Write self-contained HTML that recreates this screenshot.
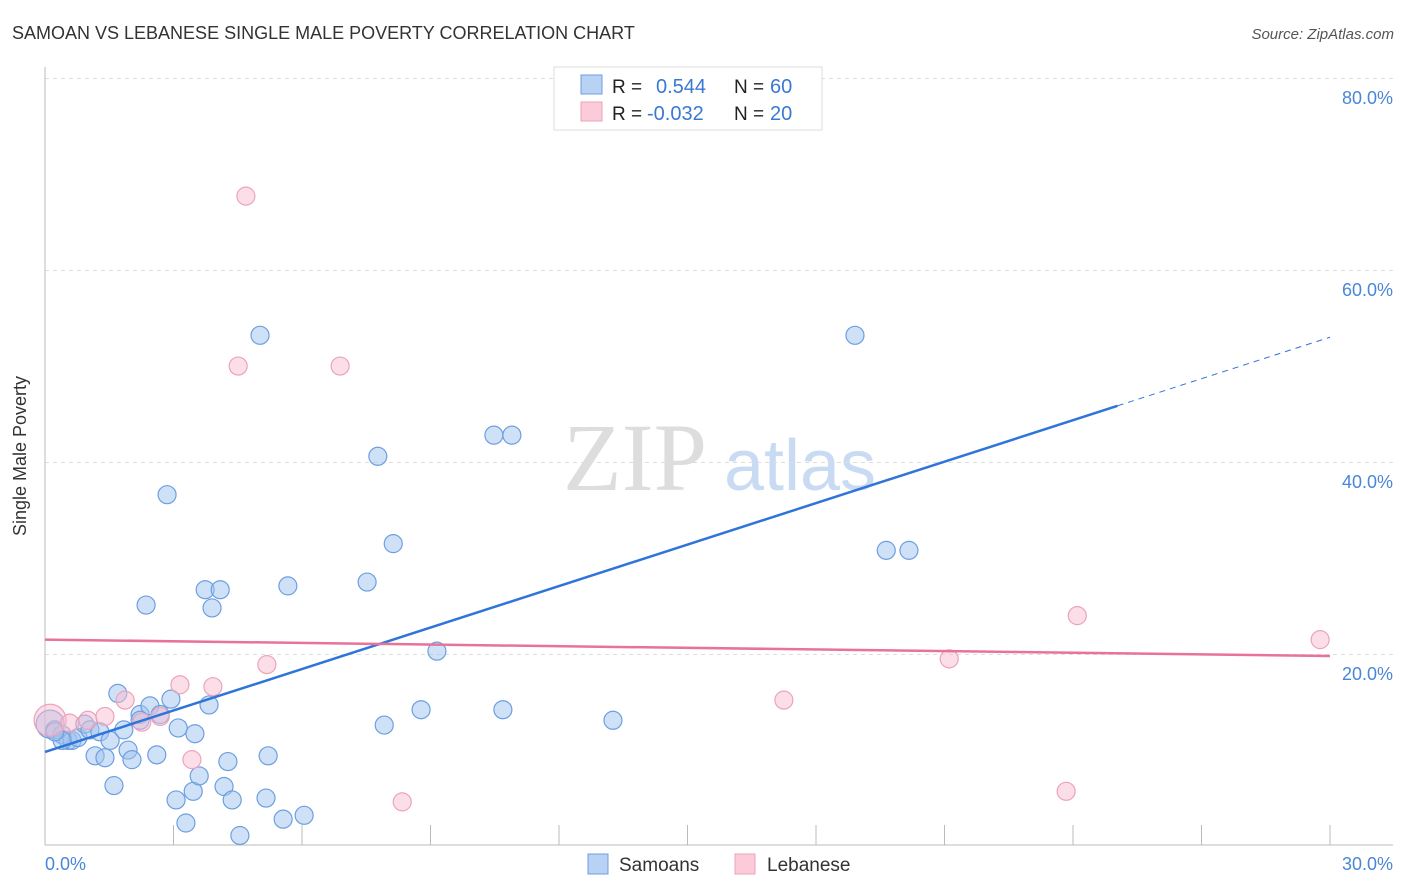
<!DOCTYPE html>
<html><head><meta charset="utf-8"><style>
body{margin:0;background:#fff;font-family:"Liberation Sans",sans-serif}
</style></head><body>
<svg id="chart" width="1406" height="892" xmlns="http://www.w3.org/2000/svg" style="display:block;font-family:'Liberation Sans',sans-serif">
<text x="12" y="39" font-size="18" fill="#333">SAMOAN VS LEBANESE SINGLE MALE POVERTY CORRELATION CHART</text>
<text x="1394" y="39" font-size="15" fill="#555" font-style="italic" text-anchor="end">Source: ZipAtlas.com</text>
<g>
<text x="635" y="490" font-size="96" fill="#ddd" font-family="Liberation Serif,serif" text-anchor="middle">ZIP</text>
<text x="800" y="490" font-size="72" fill="#c9dbf2" text-anchor="middle">atlas</text>
</g>
<g id="grid"></g>
<g id="axes"></g>
<g id="marks"></g>
<text x="26" y="456" font-size="18" fill="#333" text-anchor="middle" transform="rotate(-90 26 456)">Single Male Poverty</text>
<text x="45" y="870" font-size="18" fill="#4a86d8">0.0%</text>
<text x="1393" y="870" font-size="18" fill="#4a86d8" text-anchor="end">30.0%</text>
<g>
<rect x="554" y="67" width="268" height="63" fill="#fff" stroke="#ddd"/>
<rect x="581" y="75" width="21" height="19" fill="#b8d2f4" stroke="#6d9fe0"/>
<rect x="581" y="102" width="21" height="19" fill="#fbcbd9" stroke="#eda3ba"/>
<text x="612" y="93" font-size="19" fill="#222">R =</text>
<text x="656" y="93" font-size="20" fill="#3a78d4">0.544</text>
<text x="734" y="93" font-size="19" fill="#222">N =</text>
<text x="770" y="93" font-size="20" fill="#3a78d4">60</text>
<text x="612" y="120" font-size="19" fill="#222">R =</text>
<text x="647" y="120" font-size="20" fill="#3a78d4">-0.032</text>
<text x="734" y="120" font-size="19" fill="#222">N =</text>
<text x="770" y="120" font-size="20" fill="#3a78d4">20</text>
</g>
<g>
<rect x="588" y="854" width="20" height="20" fill="#b8d2f4" stroke="#6d9fe0"/>
<text x="619" y="871" font-size="19" fill="#333">Samoans</text>
<rect x="735" y="854" width="20" height="20" fill="#fbcbd9" stroke="#eda3ba"/>
<text x="767" y="871" font-size="19" fill="#333">Lebanese</text>
</g>
</svg>
<script>
const yTicks=[20,40,60,80];
const yTickLabels=["20.0%","40.0%","60.0%","80.0%"];
const xTicks=[3,6,9,12,15,18,21,24,27,30];
const samoanX=[0.12,0.23,0.40,0.54,0.63,0.77,0.93,1.05,1.17,1.28,1.40,1.52,1.61,1.70,1.84,1.94,2.03,2.22,2.36,2.45,2.61,2.69,2.85,2.94,3.06,3.11,3.29,3.46,3.50,3.60,3.74,3.83,3.90,4.09,4.18,4.27,4.37,4.55,5.02,5.16,5.21,5.56,5.67,6.05,7.52,7.77,7.92,8.13,8.78,9.15,10.48,10.69,10.90,13.26,18.91,19.64,20.17,0.40,2.22,0.23];
const samoanY=[12.8,12.2,11.7,11.1,11.1,11.4,12.8,12.2,9.5,12.0,9.3,11.1,6.4,16.0,12.2,10.1,9.1,13.8,25.2,14.7,9.6,13.8,36.7,15.4,4.9,12.4,2.5,5.8,11.8,7.4,26.8,14.8,24.9,26.8,6.3,8.9,4.9,1.2,53.3,5.1,9.5,2.9,27.2,3.3,27.6,40.7,12.7,31.6,14.3,20.4,42.9,14.3,42.9,13.2,53.3,30.9,30.9,11.1,13.2,12.0];
const lebX=[0.12,0.58,1.0,1.4,1.87,2.26,2.69,3.15,3.43,3.92,4.51,4.69,5.18,6.89,8.34,17.25,21.11,23.84,24.1,29.77];
const lebY=[13.2,12.9,13.2,13.6,15.3,13.0,13.6,16.9,9.1,16.7,50.1,67.8,19.0,50.1,4.7,15.3,19.6,5.8,24.1,21.6];
const samoanTrend=[9.9,1.44];
const lebTrend=[21.6,-0.057];
const samoanSolidEnd=25.04, trendEnd=30;

const NS="http://www.w3.org/2000/svg";
const X0=45,X1=1330,Y0=847,PY=9.6;
const sx=v=>X0+(X1-X0)*v/30, sy=v=>Y0-v*PY;
function mk(tag,attrs,parent){const e=document.createElementNS(NS,tag);for(const k in attrs)e.setAttribute(k,attrs[k]);parent.appendChild(e);return e;}
const grid=document.getElementById('grid'),axes=document.getElementById('axes'),marks=document.getElementById('marks');
yTicks.forEach((t,i)=>{
 const l=mk('line',{x1:45,x2:1393,y1:sy(t)-0.5,y2:sy(t)-0.5,stroke:'#ddd','stroke-dasharray':'4,4'},grid);
 
 
 const tx=mk('text',{x:1393,y:sy(t)+25,'font-size':18,fill:'#4a86d8','text-anchor':'end'},grid);
 tx.textContent=yTickLabels[i];
 
 
});
const ya=mk('line',{x1:45,x2:45,y1:67,y2:845,stroke:'#bbb'},axes);


const xa=mk('line',{x1:45,x2:1393,y1:845,y2:845,stroke:'#bbb'},axes);


xTicks.forEach(t=>{
 const l=mk('line',{x1:sx(t),x2:sx(t),y1:825,y2:845,stroke:'#bbb'},axes);
 
 
});
samoanX.forEach((x,i)=>{
 const c=mk('circle',{cx:sx(x),cy:sy(samoanY[i]),r:i===0?14:9,fill:'rgba(160,196,240,0.5)',stroke:'#6d9fe0','stroke-width':1.2},marks);
 
 
});
lebX.forEach((x,i)=>{
 const c=mk('circle',{cx:sx(x),cy:sy(lebY[i]),r:i===0?16:9,fill:'rgba(248,190,208,0.5)',stroke:'#eda3ba','stroke-width':1.2},marks);
 
 
});
const f=(tr,x)=>tr[0]+tr[1]*x;
const t1=mk('line',{x1:sx(0),y1:sy(f(samoanTrend,0)),x2:sx(samoanSolidEnd),y2:sy(f(samoanTrend,samoanSolidEnd)),stroke:'#2f74d8','stroke-width':2.5},marks);


const t2=mk('line',{x1:sx(samoanSolidEnd),y1:sy(f(samoanTrend,samoanSolidEnd)),x2:sx(trendEnd),y2:sy(f(samoanTrend,trendEnd)),stroke:'#2f74d8','stroke-width':1,'stroke-dasharray':'6,5'},marks);


const t3=mk('line',{x1:sx(0),y1:sy(f(lebTrend,0)),x2:sx(trendEnd),y2:sy(f(lebTrend,trendEnd)),stroke:'#e8729a','stroke-width':2.5},marks);


</script>
</body></html>
